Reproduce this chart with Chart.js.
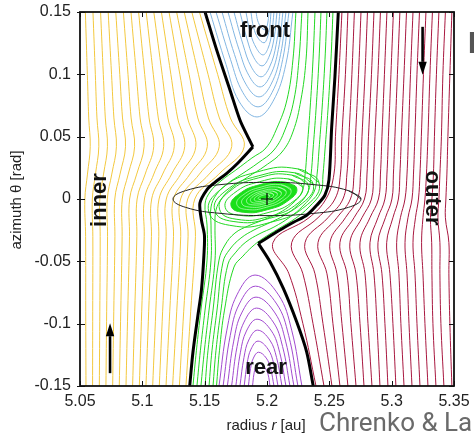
<!DOCTYPE html>
<html>
<head>
<meta charset="utf-8">
<script src="https://cdn.jsdelivr.net/npm/chart.js@4.4.1/dist/chart.umd.min.js"></script>
<style>
  html, body { margin: 0; padding: 0; background: #fff; overflow: hidden; }
  canvas { display: block; }
</style>
</head>
<body>
<canvas id="streamChart" width="474" height="435"></canvas>
<script>
(function () {
  // Axis ticks
  var X_TICKS = [5.05, 5.1, 5.15, 5.2, 5.25, 5.3, 5.35];
  var X_TICK_LABELS = ['5.05', '5.1', '5.15', '5.2', '5.25', '5.3', '5.35'];
  var Y_TICKS = [-0.15, -0.1, -0.05, 0, 0.05, 0.1, 0.15];
  var Y_TICK_LABELS = ['-0.15', '-0.1', '-0.05', '0', '0.05', '0.1', '0.15'];

  // Inner (yellow) streamlines: radius of each line at these azimuths
  var INNER_THETA = [0.15, 0.1, 0.065, 0.042, 0.02, 0.0, -0.03, -0.09, -0.15];
  var INNER_R = [
    [5.0543, 5.0559, 5.0570, 5.0582, 5.0560, 5.0539, 5.0545, 5.0546, 5.0548],
    [5.0604, 5.0623, 5.0636, 5.0651, 5.0624, 5.0599, 5.0603, 5.0602, 5.0601],
    [5.0665, 5.0687, 5.0703, 5.0720, 5.0689, 5.0659, 5.0662, 5.0659, 5.0655],
    [5.0726, 5.0753, 5.0772, 5.0792, 5.0755, 5.0719, 5.0721, 5.0714, 5.0708],
    [5.0787, 5.0819, 5.0841, 5.0865, 5.0821, 5.0779, 5.0780, 5.0771, 5.0762],
    [5.0848, 5.0885, 5.0910, 5.0938, 5.0887, 5.0839, 5.0838, 5.0827, 5.0815],
    [5.0909, 5.0952, 5.0982, 5.1014, 5.0955, 5.0898, 5.0897, 5.0883, 5.0869],
    [5.0970, 5.1019, 5.1054, 5.1091, 5.1023, 5.0958, 5.0956, 5.0939, 5.0922],
    [5.1031, 5.1088, 5.1128, 5.1171, 5.1092, 5.1017, 5.1015, 5.0995, 5.0976],
    [5.1092, 5.1159, 5.1205, 5.1256, 5.1163, 5.1075, 5.1073, 5.1051, 5.1029],
    [5.1153, 5.1229, 5.1283, 5.1340, 5.1235, 5.1134, 5.1132, 5.1108, 5.1083],
    [5.1214, 5.1301, 5.1363, 5.1429, 5.1308, 5.1192, 5.1191, 5.1163, 5.1136],
    [5.1275, 5.1375, 5.1445, 5.1521, 5.1382, 5.1250, 5.1250, 5.1220, 5.1190],
    [5.1336, 5.1450, 5.1530, 5.1617, 5.1458, 5.1307, 5.1308, 5.1276, 5.1243],
    [5.1397, 5.1527, 5.1618, 5.1717, 5.1536, 5.1364, 5.1367, 5.1332, 5.1297],
    [5.1458, 5.1604, 5.1706, 5.1817, 5.1614, 5.1421, 5.1426, 5.1388, 5.1350]
  ];

  // Outer (red) streamlines: one row per azimuth, one column per line
  var OUTER_THETA = [0.15, 0.1, 0.05, 0.02, 0.0, -0.015, -0.035, -0.06, -0.1, -0.15];
  var OUTER_R_ROWS = [
    [5.2601, 5.2649, 5.2701, 5.2754, 5.2806, 5.2858, 5.2910, 5.2962, 5.3014, 5.3066, 5.3119, 5.3171, 5.3223, 5.3275, 5.3327, 5.3379, 5.3431, 5.3483],
    [5.2577, 5.2629, 5.2681, 5.2734, 5.2786, 5.2838, 5.2890, 5.2942, 5.2994, 5.3046, 5.3099, 5.3151, 5.3203, 5.3255, 5.3307, 5.3359, 5.3411, 5.3467],
    [5.2549, 5.2601, 5.2657, 5.2710, 5.2762, 5.2814, 5.2866, 5.2922, 5.2974, 5.3026, 5.3078, 5.3134, 5.3186, 5.3238, 5.3291, 5.3343, 5.3399, 5.3451],
    [5.2537, 5.2589, 5.2641, 5.2698, 5.2750, 5.2802, 5.2854, 5.2910, 5.2962, 5.3014, 5.3066, 5.3123, 5.3175, 5.3227, 5.3279, 5.3335, 5.3387, 5.3443],
    [5.2473, 5.2545, 5.2609, 5.2669, 5.2726, 5.2782, 5.2838, 5.2894, 5.2946, 5.3002, 5.3054, 5.3107, 5.3163, 5.3215, 5.3267, 5.3323, 5.3379, 5.3435],
    [5.2337, 5.2409, 5.2489, 5.2561, 5.2629, 5.2698, 5.2762, 5.2826, 5.2890, 5.2950, 5.3010, 5.3070, 5.3131, 5.3191, 5.3251, 5.3311, 5.3371, 5.3431],
    [5.2048, 5.2198, 5.2305, 5.2409, 5.2505, 5.2585, 5.2665, 5.2746, 5.2826, 5.2890, 5.2960, 5.3040, 5.3107, 5.3171, 5.3240, 5.3321, 5.3387, 5.3459],
    [5.2176, 5.2288, 5.2385, 5.2481, 5.2561, 5.2641, 5.2714, 5.2786, 5.2858, 5.2922, 5.2986, 5.3058, 5.3123, 5.3187, 5.3251, 5.3323, 5.3387, 5.3459],
    [5.2288, 5.2369, 5.2449, 5.2529, 5.2601, 5.2673, 5.2746, 5.2810, 5.2882, 5.2946, 5.3010, 5.3074, 5.3139, 5.3203, 5.3267, 5.3331, 5.3395, 5.3467],
    [5.2393, 5.2457, 5.2521, 5.2585, 5.2649, 5.2714, 5.2778, 5.2842, 5.2906, 5.2970, 5.3034, 5.3099, 5.3163, 5.3227, 5.3291, 5.3355, 5.3419, 5.3483]
  ];

  // Front (blue) horseshoe turns, [r, theta]
  var FRONT_LOOPS = [
    [[5.1543, 0.15], [5.1671, 0.1080], [5.1775, 0.0785], [5.1920, 0.0658], [5.2049, 0.0785], [5.2151, 0.1080], [5.2208, 0.15]],
    [[5.1591, 0.15], [5.1707, 0.1120], [5.1807, 0.0853], [5.1928, 0.0739], [5.2040, 0.0853], [5.2126, 0.1120], [5.2176, 0.15]],
    [[5.1639, 0.15], [5.1739, 0.1160], [5.1831, 0.0921], [5.1936, 0.0819], [5.2033, 0.0921], [5.2109, 0.1160], [5.2152, 0.15]],
    [[5.1687, 0.15], [5.1775, 0.1200], [5.1855, 0.0990], [5.1944, 0.0899], [5.2026, 0.0990], [5.2091, 0.1200], [5.2128, 0.15]],
    [[5.1735, 0.15], [5.1807, 0.1241], [5.1875, 0.1058], [5.1952, 0.0980], [5.2020, 0.1058], [5.2074, 0.1241], [5.2104, 0.15]],
    [[5.1783, 0.15], [5.1839, 0.1285], [5.1895, 0.1133], [5.1960, 0.1068], [5.2013, 0.1133], [5.2056, 0.1285], [5.2080, 0.15]],
    [[5.1831, 0.15], [5.1867, 0.1329], [5.1916, 0.1208], [5.1968, 0.1156], [5.2008, 0.1208], [5.2038, 0.1329], [5.2056, 0.15]],
    [[5.1871, 0.15], [5.1892, 0.1377], [5.1929, 0.1290], [5.1976, 0.1253], [5.2001, 0.1290], [5.2021, 0.1377], [5.2032, 0.15]],
    [[5.1912, 0.15], [5.1926, 0.1429], [5.1952, 0.1379], [5.1984, 0.1357], [5.1998, 0.1379], [5.2009, 0.1429], [5.2016, 0.15]]
  ];

  // Rear (purple) horseshoe turns
  var REAR_LOOPS = [
    [[5.1615, -0.15], [5.1678, -0.1052], [5.1759, -0.0769], [5.1904, -0.0610], [5.2092, -0.0769], [5.2198, -0.1052], [5.2280, -0.15]],
    [[5.1648, -0.15], [5.1705, -0.1096], [5.1778, -0.0842], [5.1908, -0.0699], [5.2078, -0.0842], [5.2174, -0.1096], [5.2248, -0.15]],
    [[5.1682, -0.15], [5.1733, -0.1140], [5.1797, -0.0914], [5.1912, -0.0787], [5.2064, -0.0914], [5.2149, -0.1140], [5.2216, -0.15]],
    [[5.1716, -0.15], [5.1760, -0.1184], [5.1816, -0.0987], [5.1916, -0.0875], [5.2050, -0.0987], [5.2125, -0.1184], [5.2184, -0.15]],
    [[5.1750, -0.15], [5.1787, -0.1229], [5.1835, -0.1059], [5.1920, -0.0964], [5.2036, -0.1059], [5.2101, -0.1229], [5.2152, -0.15]],
    [[5.1783, -0.15], [5.1815, -0.1273], [5.1854, -0.1131], [5.1924, -0.1052], [5.2022, -0.1131], [5.2077, -0.1273], [5.2120, -0.15]],
    [[5.1817, -0.15], [5.1841, -0.1317], [5.1872, -0.1204], [5.1928, -0.1140], [5.2008, -0.1204], [5.2053, -0.1317], [5.2088, -0.15]],
    [[5.1851, -0.15], [5.1868, -0.1361], [5.1891, -0.1276], [5.1932, -0.1229], [5.1994, -0.1276], [5.2029, -0.1361], [5.2056, -0.15]],
    [[5.1884, -0.15], [5.1895, -0.1405], [5.1910, -0.1349], [5.1936, -0.1317], [5.1980, -0.1349], [5.2008, -0.1405], [5.2024, -0.15]]
  ];

  // Green lines crossing from front-outer to rear-inner
  var CROSSING_LINES = [
    [[5.2232, 0.15], [5.2208, 0.1116], [5.2160, 0.0795], [5.2080, 0.0570], [5.1992, 0.0410], [5.1879, 0.0329], [5.1751, 0.0233], [5.1631, 0.0145], [5.1543, 0.0056], [5.1503, -0.0040], [5.1519, -0.0209], [5.1519, -0.0490], [5.1470, -0.0891], [5.1434, -0.1213], [5.1406, -0.15]],
    [[5.2280, 0.15], [5.2256, 0.1116], [5.2216, 0.0795], [5.2144, 0.0554], [5.2056, 0.0393], [5.1928, 0.0289], [5.1799, 0.0201], [5.1679, 0.0120], [5.1591, 0.0032], [5.1551, -0.0064], [5.1551, -0.0209], [5.1551, -0.0490], [5.1503, -0.0891], [5.1466, -0.1213], [5.1438, -0.15]],
    [[5.2329, 0.15], [5.2313, 0.1116], [5.2272, 0.0795], [5.2208, 0.0538], [5.2120, 0.0377], [5.1984, 0.0265], [5.1847, 0.0177], [5.1727, 0.0096], [5.1639, 0.0008], [5.1591, -0.0088], [5.1583, -0.0217], [5.1583, -0.0490], [5.1535, -0.0891], [5.1498, -0.1213], [5.1470, -0.15]],
    [[5.2385, 0.15], [5.2369, 0.1116], [5.2345, 0.0715], [5.2321, 0.0393], [5.2305, 0.0193], [5.2280, 0.0056], [5.2200, -0.0040], [5.2096, -0.0112], [5.1968, -0.0169], [5.1847, -0.0217], [5.1743, -0.0273], [5.1663, -0.0369], [5.1615, -0.0490], [5.1567, -0.0891], [5.1527, -0.1213], [5.1503, -0.15]],
    [[5.2433, 0.15], [5.2417, 0.1116], [5.2393, 0.0715], [5.2369, 0.0393], [5.2353, 0.0193], [5.2329, 0.0056], [5.2248, -0.0048], [5.2144, -0.0128], [5.2016, -0.0193], [5.1895, -0.0249], [5.1791, -0.0313], [5.1703, -0.0402], [5.1647, -0.0506], [5.1599, -0.0891], [5.1559, -0.1213], [5.1535, -0.15]],
    [[5.2481, 0.15], [5.2465, 0.1116], [5.2441, 0.0715], [5.2417, 0.0393], [5.2401, 0.0193], [5.2377, 0.0056], [5.2288, -0.0056], [5.2184, -0.0145], [5.2056, -0.0225], [5.1936, -0.0281], [5.1831, -0.0345], [5.1751, -0.0426], [5.1687, -0.0522], [5.1631, -0.0891], [5.1591, -0.1213], [5.1567, -0.15]],
    [[5.2529, 0.15], [5.2513, 0.1116], [5.2489, 0.0715], [5.2465, 0.0393], [5.2449, 0.0193], [5.2433, 0.0056], [5.2337, -0.0064], [5.2232, -0.0153], [5.2088, -0.0241], [5.1960, -0.0321], [5.1879, -0.0385], [5.1807, -0.0458], [5.1735, -0.0546], [5.1659, -0.0891], [5.1619, -0.1213], [5.1595, -0.15]]
  ];

  // Closed vortex orbits around the planet (innermost first)
  var VORTEX_ORBITS = [
    [[5.2022, 0.0027], [5.2005, 0.0035], [5.1971, 0.0031], [5.1939, 0.0017], [5.1929, 0.0003], [5.1945, -0.0005], [5.1979, -0.0001], [5.2011, 0.0013]],
    [[5.2053, 0.0036], [5.2025, 0.0049], [5.1968, 0.0042], [5.1915, 0.0020], [5.1898, -0.0006], [5.1925, -0.0019], [5.1982, -0.0012], [5.2035, 0.0011]],
    [[5.2083, 0.0044], [5.2044, 0.0063], [5.1965, 0.0054], [5.1891, 0.0022], [5.1867, -0.0014], [5.1906, -0.0033], [5.1985, -0.0024], [5.2059, 0.0008]],
    [[5.2115, 0.0052], [5.2064, 0.0077], [5.1962, 0.0065], [5.1867, 0.0024], [5.1836, -0.0022], [5.1886, -0.0047], [5.1989, -0.0035], [5.2083, 0.0006]],
    [[5.2153, 0.0063], [5.2089, 0.0095], [5.1957, 0.0081], [5.1837, 0.0028], [5.1797, -0.0033], [5.1862, -0.0065], [5.1993, -0.0051], [5.2114, 0.0002]],
    [[5.2192, 0.0073], [5.2113, 0.0114], [5.1953, 0.0096], [5.1806, 0.0031], [5.1758, -0.0043], [5.1837, -0.0084], [5.1997, -0.0066], [5.2144, -0.0001]],
    [[5.2238, 0.0086], [5.2142, 0.0136], [5.1948, 0.0116], [5.1770, 0.0036], [5.1712, -0.0056], [5.1808, -0.0106], [5.2002, -0.0086], [5.2180, -0.0006]],
    [[5.2285, 0.0098], [5.2171, 0.0161], [5.1942, 0.0139], [5.1732, 0.0044], [5.1665, -0.0068], [5.1779, -0.0131], [5.2008, -0.0109], [5.2218, -0.0014]],
    [[5.2331, 0.0111], [5.2198, 0.0192], [5.1934, 0.0170], [5.1694, 0.0057], [5.1619, -0.0081], [5.1752, -0.0162], [5.2017, -0.0140], [5.2256, -0.0027]],
    [[5.2370, 0.0121], [5.2222, 0.0210], [5.1929, 0.0185], [5.1663, 0.0061], [5.1580, -0.0091], [5.1728, -0.0180], [5.2021, -0.0155], [5.2287, -0.0031]],
    [[5.2417, 0.0133], [5.2249, 0.0241], [5.1921, 0.0217], [5.1625, 0.0074], [5.1533, -0.0103], [5.1701, -0.0211], [5.2029, -0.0187], [5.2325, -0.0044]]
  ];
  var CORE_ORBIT = 6;

  // Separatrices (thick black)
  var LEFT_SEP_UPPER = [[5.1503, 0.15], [5.1596, 0.1196], [5.1703, 0.0875], [5.1783, 0.0634], [5.1839, 0.0514], [5.1887, 0.0418]];
  var LEFT_SEP_LOWER = [[5.1887, 0.0418], [5.1767, 0.0289], [5.1677, 0.0206], [5.1575, 0.0128], [5.1516, 0.0072], [5.1462, -0.0032], [5.1474, -0.0169], [5.1498, -0.0289], [5.1494, -0.0450], [5.1474, -0.0731], [5.1446, -0.0932], [5.1406, -0.1229], [5.1380, -0.15]];
  var RIGHT_SEP_UPPER = [[5.2572, 0.15], [5.2545, 0.0982], [5.2519, 0.0581], [5.2497, 0.0153], [5.2465, 0.0032], [5.2401, -0.0048], [5.2321, -0.0128], [5.2216, -0.0185], [5.2104, -0.0249], [5.1930, -0.0356]];
  var RIGHT_SEP_LOWER = [[5.1930, -0.0356], [5.2024, -0.0503], [5.2131, -0.0717], [5.2238, -0.0985], [5.2318, -0.1226], [5.2371, -0.15]];

  // Hill ellipse and planet
  var HILL_ELLIPSE = [[5.2754, 0], [5.2653, 0.0067], [5.2377, 0.0115], [5.2, 0.0133], [5.1623, 0.0115], [5.1347, 0.0067], [5.1246, 0], [5.1347, -0.0067], [5.1623, -0.0115], [5.2, -0.0133], [5.2377, -0.0115], [5.2653, -0.0067]];
  var PLANET = [5.2, 0.0];

  // Annotations in data units
  var ARROWS = [
    { r: 5.0741, from: -0.1397, to: -0.0996 },
    { r: 5.3248, from: 0.1381, to: 0.0996 }
  ];
  var REGION_LABELS = [
    { text: 'front', r: 5.1984, theta: 0.1349, rot: 0 },
    { text: 'rear', r: 5.1992, theta: -0.1357, rot: 0 },
    { text: 'inner', r: 5.0660, theta: -0.0008, rot: -90 },
    { text: 'outer', r: 5.3325, theta: 0.0008, rot: 90 }
  ];

  var COL = {
    inner: '#f3c83e',
    outer: '#a8173f',
    front: '#82b6e2',
    rear: '#a24ad0',
    green: '#22d822',
    core: '#19e019',
    coreLine: 'rgba(190,255,190,0.9)'
  };

  function pts(list) {
    return list.map(function (p) { return { x: p[0], y: p[1] }; });
  }
  function closed(list) {
    return list.concat([list[0], list[1]]);
  }
  function stream(list, color, width, order, tension) {
    return {
      data: pts(list),
      showLine: true,
      borderColor: color,
      borderWidth: width,
      pointRadius: 0,
      tension: tension === undefined ? 0.4 : tension,
      fill: false,
      order: order
    };
  }

  var datasets = [];

  INNER_R.forEach(function (rs) {
    datasets.push(stream(rs.map(function (r, i) { return [r, INNER_THETA[i]]; }), COL.inner, 1, 10));
  });
  OUTER_R_ROWS[0].forEach(function (_, j) {
    datasets.push(stream(OUTER_R_ROWS.map(function (row, i) { return [row[j], OUTER_THETA[i]]; }), COL.outer, 1, 10));
  });
  FRONT_LOOPS.forEach(function (l) { datasets.push(stream(l, COL.front, 1, 10)); });
  REAR_LOOPS.forEach(function (l) { datasets.push(stream(l, COL.rear, 1, 10)); });
  CROSSING_LINES.forEach(function (l) { datasets.push(stream(l, COL.green, 1, 10)); });

  VORTEX_ORBITS.forEach(function (o, i) {
    var inner = i < CORE_ORBIT;
    var ds = stream(closed(o), inner ? COL.coreLine : COL.green, inner ? 0.8 : 1, inner ? 8 : 10, 0.5);
    if (i === CORE_ORBIT) {
      ds.fill = 'shape';
      ds.backgroundColor = COL.core;
      ds.order = 20;
    }
    datasets.push(ds);
  });

  [LEFT_SEP_UPPER, LEFT_SEP_LOWER, RIGHT_SEP_UPPER, RIGHT_SEP_LOWER].forEach(function (l) {
    datasets.push(stream(l, '#000', 3, 1, 0.3));
  });
  datasets.push(stream(closed(HILL_ELLIPSE), '#222', 1, 2, 0.45));
  datasets.push({
    data: pts([PLANET]),
    showLine: false,
    pointStyle: 'cross',
    pointRadius: 6,
    borderColor: '#000',
    borderWidth: 1.2,
    order: 0
  });

  var FONT = '"Liberation Sans", Arial, sans-serif';

  var decorPlugin = {
    id: 'decor',
    afterDatasetsDraw: function (chart) {
      var ctx = chart.ctx, xs = chart.scales.x, ys = chart.scales.y, a = chart.chartArea;
      ctx.save();
      ctx.strokeStyle = '#111';
      ctx.lineWidth = 1;
      X_TICKS.forEach(function (v) {
        var px = Math.round(xs.getPixelForValue(v)) + 0.5;
        ctx.beginPath();
        ctx.moveTo(px, a.top); ctx.lineTo(px, a.top + 5);
        ctx.moveTo(px, a.bottom); ctx.lineTo(px, a.bottom - 5);
        ctx.stroke();
      });
      Y_TICKS.forEach(function (v) {
        var py = Math.round(ys.getPixelForValue(v)) + 0.5;
        ctx.beginPath();
        ctx.moveTo(a.left - 3, py); ctx.lineTo(a.left + 5, py);
        ctx.moveTo(a.right, py); ctx.lineTo(a.right - 5, py);
        ctx.stroke();
      });
      ctx.lineWidth = 1.8;
      ctx.strokeRect(a.left, a.top, a.right - a.left, a.bottom - a.top);

      // arrows
      ctx.fillStyle = '#000';
      ctx.strokeStyle = '#000';
      ARROWS.forEach(function (ar) {
        var x = xs.getPixelForValue(ar.r);
        var y0 = ys.getPixelForValue(ar.from), y1 = ys.getPixelForValue(ar.to);
        var dir = y1 > y0 ? 1 : -1, head = 13;
        ctx.lineWidth = 2.6;
        ctx.beginPath();
        ctx.moveTo(x, y0); ctx.lineTo(x, y1 - dir * head);
        ctx.stroke();
        ctx.beginPath();
        ctx.moveTo(x, y1);
        ctx.lineTo(x - 4.2, y1 - dir * head);
        ctx.lineTo(x + 4.2, y1 - dir * head);
        ctx.closePath();
        ctx.fill();
      });

      // region names
      ctx.fillStyle = '#111';
      ctx.font = 'bold 22px ' + FONT;
      ctx.textAlign = 'center';
      ctx.textBaseline = 'middle';
      REGION_LABELS.forEach(function (l) {
        ctx.save();
        ctx.translate(xs.getPixelForValue(l.r), ys.getPixelForValue(l.theta));
        ctx.rotate(l.rot * Math.PI / 180);
        ctx.fillText(l.text, 0, 0);
        ctx.restore();
      });
      ctx.restore();
    },
    afterDraw: function (chart) {
      var ctx = chart.ctx;
      ctx.save();
      ctx.fillStyle = '#222';
      ctx.textBaseline = 'middle';
      ctx.textAlign = 'center';
      ctx.font = '15px ' + FONT;
      ctx.save();
      ctx.translate(17, 200);
      ctx.rotate(-Math.PI / 2);
      ctx.fillText('azimuth \u03b8 [rad]', 0, 0);
      ctx.restore();

      // x title with italic r
      var p1 = 'radius ', p2 = 'r', p3 = ' [au]';
      ctx.textAlign = 'left';
      ctx.textBaseline = 'alphabetic';
      ctx.font = '15px ' + FONT;
      var w1 = ctx.measureText(p1).width, w3 = ctx.measureText(p3).width;
      ctx.font = 'italic 15px ' + FONT;
      var w2 = ctx.measureText(p2).width;
      var x0 = 266 - (w1 + w2 + w3) / 2, yb = 430;
      ctx.font = '15px ' + FONT;
      ctx.fillText(p1, x0, yb);
      ctx.font = 'italic 15px ' + FONT;
      ctx.fillText(p2, x0 + w1, yb);
      ctx.font = '15px ' + FONT;
      ctx.fillText(p3, x0 + w1 + w2, yb);

      // caption fragments cut by the crop
      ctx.fillStyle = '#6a6a6a';
      ctx.font = '26px Roboto, sans-serif';
      ctx.fillText('Chrenko & La', 319, 431);
      ctx.fillStyle = '#555';
      ctx.font = 'bold 30px Roboto, sans-serif';
      ctx.fillText('E', 468, 53);
      ctx.restore();
    }
  };

  new Chart(document.getElementById('streamChart').getContext('2d'), {
    type: 'scatter',
    plugins: [decorPlugin],
    data: { datasets: datasets },
    options: {
      responsive: false,
      animation: false,
      devicePixelRatio: 1,
      events: [],
      layout: { padding: { left: 0, right: 20, top: 12, bottom: 0 } },
      plugins: { legend: { display: false }, tooltip: { enabled: false } },
      scales: {
        x: {
          type: 'linear',
          min: 5.05,
          max: 5.35,
          afterBuildTicks: function (s) { s.ticks = X_TICKS.map(function (v) { return { value: v }; }); },
          afterFit: function (s) { s.height = 49; s.paddingLeft = 0; s.paddingRight = 0; },
          ticks: {
            padding: 6,
            color: '#222',
            font: { family: FONT, size: 16 },
            callback: function (v, i) { return X_TICK_LABELS[i]; }
          },
          grid: { display: false, drawTicks: false },
          border: { display: false }
        },
        y: {
          type: 'linear',
          min: -0.15,
          max: 0.15,
          afterBuildTicks: function (s) { s.ticks = Y_TICKS.map(function (v) { return { value: v }; }); },
          afterFit: function (s) { s.width = 80; s.paddingTop = 0; s.paddingBottom = 0; },
          ticks: {
            padding: 9,
            color: '#222',
            font: { family: FONT, size: 16 },
            callback: function (v, i) { return Y_TICK_LABELS[i]; }
          },
          grid: { display: false, drawTicks: false },
          border: { display: false }
        }
      }
    }
  });
})();
</script>
</body>
</html>
